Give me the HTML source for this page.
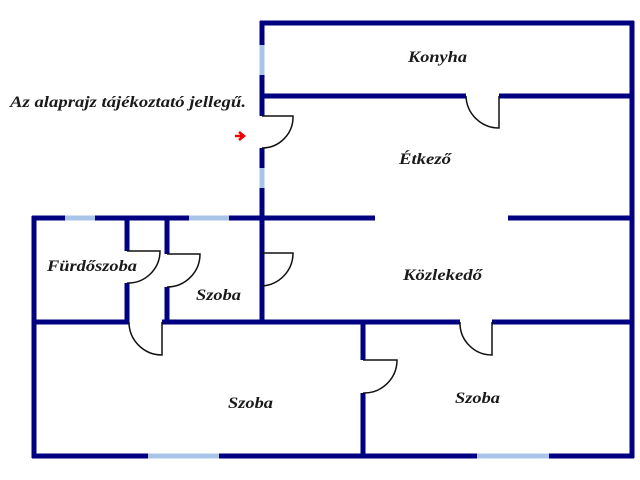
<!DOCTYPE html>
<html><head><meta charset="utf-8"><style>
html,body{margin:0;padding:0;background:#fff;width:640px;height:480px;overflow:hidden}
text{font-family:"Liberation Serif",serif;font-style:italic;font-weight:bold;fill:#1a1a1a}
</style></head><body>
<svg width="640" height="480" xmlns="http://www.w3.org/2000/svg">
<g stroke="#000080" stroke-width="5" stroke-linecap="butt" fill="none">
<line x1="260" y1="23" x2="634" y2="23"/>
<line x1="632" y1="21" x2="632" y2="458"/>
<line x1="262" y1="96" x2="466" y2="96"/>
<line x1="499" y1="96" x2="632" y2="96"/>
<line x1="262" y1="21" x2="262" y2="116"/>
<line x1="262" y1="148" x2="262" y2="322"/>
<line x1="32" y1="218" x2="375" y2="218"/>
<line x1="508" y1="218" x2="632" y2="218"/>
<line x1="34" y1="216" x2="34" y2="458"/>
<line x1="127" y1="218" x2="127" y2="251"/>
<line x1="127" y1="283" x2="127" y2="322"/>
<line x1="167" y1="218" x2="167" y2="254"/>
<line x1="167" y1="287" x2="167" y2="322"/>
<line x1="34" y1="322" x2="129" y2="322"/>
<line x1="162" y1="322" x2="460" y2="322"/>
<line x1="492" y1="322" x2="632" y2="322"/>
<line x1="363" y1="322" x2="363" y2="360"/>
<line x1="363" y1="393" x2="363" y2="456"/>
<line x1="32" y1="456" x2="634" y2="456"/>
</g>
<g stroke="#a8c4e8" stroke-width="5" fill="none">
<line x1="262" y1="45" x2="262" y2="75"/>
<line x1="262" y1="168" x2="262" y2="188"/>
<line x1="65" y1="218" x2="95" y2="218"/>
<line x1="189" y1="218" x2="229" y2="218"/>
<line x1="148" y1="456" x2="219" y2="456"/>
<line x1="477" y1="456" x2="549" y2="456"/>
</g>
<g stroke="#111" stroke-width="1.5" fill="none">
<path d="M466 96 A33 33 0 0 0 499 128 V96"/>
<path d="M262 116 H293 A31 31 0 0 1 262 148"/>
<path d="M127 251 H160 A32 32 0 0 1 127 283"/>
<path d="M167 254 H200 A33 33 0 0 1 167 287"/>
<path d="M262 253 H293 A33 33 0 0 1 262 286"/>
<path d="M129 322 A33 33 0 0 0 162 355 V322"/>
<path d="M460 322 A32 32 0 0 0 492 355 V322"/>
<path d="M363 360 H397 A33 33 0 0 1 363 393"/>
</g>
<path d="M235 136 H242 M239 132 L244 136 L239 140" stroke="#e00" stroke-width="2.5" fill="none"/>
<text x="10" y="107" font-size="16" textLength="236" lengthAdjust="spacingAndGlyphs">Az alaprajz tájékoztató jellegű.</text>
<text x="408" y="62" font-size="16" textLength="59" lengthAdjust="spacingAndGlyphs">Konyha</text>
<text x="399" y="164" font-size="16" textLength="52" lengthAdjust="spacingAndGlyphs">Étkező</text>
<text x="47" y="271" font-size="16" textLength="90" lengthAdjust="spacingAndGlyphs">Fürdőszoba</text>
<text x="196" y="300" font-size="16" textLength="45" lengthAdjust="spacingAndGlyphs">Szoba</text>
<text x="403" y="280" font-size="16" textLength="79" lengthAdjust="spacingAndGlyphs">Közlekedő</text>
<text x="228" y="408" font-size="16" textLength="45" lengthAdjust="spacingAndGlyphs">Szoba</text>
<text x="455" y="403" font-size="16" textLength="45" lengthAdjust="spacingAndGlyphs">Szoba</text>
</svg>
</body></html>
